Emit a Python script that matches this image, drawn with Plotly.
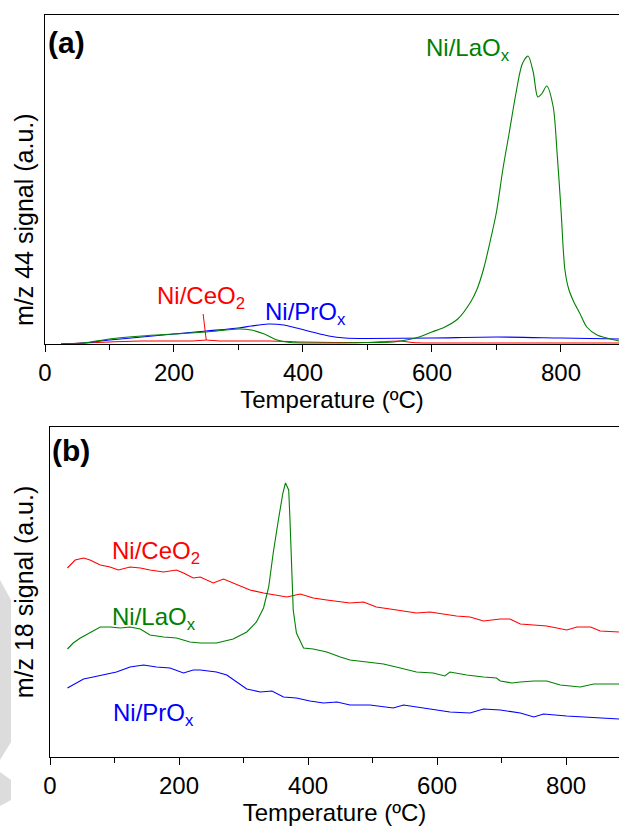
import plotly.graph_objects as go

# ---------------- Panel (a): m/z 44 signal ----------------
t_la_44 = [25, 60, 100, 150, 200, 250, 300, 320, 340, 360, 380, 420, 500, 540, 560, 580, 600, 620, 640,
           660, 670, 680, 690, 700, 710, 720, 730, 740, 749, 757, 764, 770, 778, 788, 794, 800, 806, 812,
           820, 829, 840, 856, 871, 890]
v_la_44 = [0, 1, 5, 8, 10, 12, 15, 14, 10, 4, 1.5, 1, 1.5, 2, 4, 7, 12, 17, 25,
           42, 55, 75, 102, 132, 175, 212, 250, 280, 288, 272, 247, 250, 258, 237, 191, 135, 75, 55,
           42, 31, 17, 9, 6, 3]

t_pr_44 = [25, 60, 100, 150, 200, 250, 300, 320, 346, 370, 390, 414, 440, 465, 500, 600, 700, 800, 890]
v_pr_44 = [0, 1, 4, 7, 10, 13, 16, 18, 20, 19, 16, 12, 8, 6, 5.5, 6, 7, 6, 5]

t_ce_44 = [25, 60, 100, 150, 200, 230, 250, 270, 300, 350, 400, 450, 500, 530, 550, 570, 600, 700, 800, 890]
v_ce_44 = [0, 1, 2, 3, 3, 3, 4, 3, 3, 3, 2, 1.5, 1.5, 2.5, 3, 1.5, 1, 1, 1, 1]

# ---------------- Panel (b): m/z 18 signal ----------------
t_ce_18 = [27, 39, 52, 62, 78, 93, 106, 124, 140, 155, 176, 196, 207, 222, 233, 253, 269, 284, 310, 331,
           351, 367, 388, 408, 429, 450, 465, 486, 506, 527, 548, 568, 589, 610, 630, 651, 672, 698, 713,
           729, 750, 770, 801, 817, 838, 853, 882]
v_ce_18 = [189, 197, 199, 197, 192, 190, 187, 190, 189, 187, 185, 187, 184, 179, 180, 174, 178, 174, 167, 164,
           162, 160, 163, 159, 157, 155, 154, 155, 150, 148, 146, 144, 145, 143, 141, 140, 136, 138, 138,
           133, 132, 131, 127, 130, 130, 126, 125]

t_la_18 = [27, 36, 47, 62, 78, 93, 109, 124, 140, 155, 176, 196, 217, 233, 258, 284, 305, 320, 331, 339,
           346, 354, 361, 365, 370, 372, 375, 377, 382, 393, 408, 429, 450, 465, 491, 517, 543, 568, 594,
           612, 620, 646, 672, 692, 698, 716, 729, 750, 770, 791, 822, 843, 882]
v_la_18 = [108, 114, 119, 124, 130, 130, 129, 130, 128, 122, 120, 119, 115, 114, 114, 118, 125, 135, 149, 170,
           204, 237, 264, 274, 267, 237, 187, 147, 124, 109, 108, 105, 100, 97, 95, 93, 89, 85, 84,
           81, 85, 82, 80, 79, 76, 74, 75, 76, 76, 72, 70, 73, 73]

t_pr_18 = [27, 36, 52, 67, 83, 103, 124, 145, 165, 186, 207, 222, 233, 258, 274, 289, 305, 326, 344, 362,
           382, 403, 424, 445, 465, 496, 532, 548, 579, 620, 651, 672, 698, 729, 750, 765, 801, 832, 853, 882]
v_pr_18 = [69, 72, 78, 80, 82, 85, 90, 92, 90, 89, 84, 87, 87, 85, 82, 75, 68, 65, 66, 60,
           59, 56, 54, 55, 52, 52, 49, 52, 49, 45, 44, 48, 47, 44, 40, 43, 41, 40, 39, 38]

x_ticks = [0, 200, 400, 600, 800]

RED, GREEN, BLUE = "#ff0000", "#008000", "#0000ff"
FONT = "Liberation Sans, Arial, sans-serif"
FS = 24

fig = go.Figure()

def add(t, v, c, xa, ya, shape):
    line = dict(color=c, width=1.1, shape=shape)
    if shape == "spline":
        line["smoothing"] = 0.8
    fig.add_trace(go.Scatter(x=t, y=v, mode="lines", xaxis=xa, yaxis=ya, line=line,
                             showlegend=False, hoverinfo="skip"))

add(t_ce_44, v_ce_44, RED, "x", "y", "spline")
add(t_pr_44, v_pr_44, BLUE, "x", "y", "spline")
add(t_la_44, v_la_44, GREEN, "x", "y", "spline")

add(t_ce_18, v_ce_18, RED, "x2", "y2", "linear")
add(t_la_18, v_la_18, GREEN, "x2", "y2", "linear")
add(t_pr_18, v_pr_18, BLUE, "x2", "y2", "linear")

W, H = 619, 828
def px(x):
    return x / W
def py(y):
    return 1 - y / H

xcommon = dict(showline=True, linecolor="black", linewidth=1, mirror=True, ticks="outside",
               ticklen=7, tickwidth=1, tickcolor="black", tickvals=x_ticks,
               minor=dict(dtick=100, tick0=0, ticks="outside", ticklen=5, tickwidth=1, tickcolor="black"),
               showgrid=False, zeroline=False, automargin=False,
               tickfont=dict(family=FONT, size=FS, color="black"),
               title=dict(text="Temperature (ºC)", font=dict(family=FONT, size=FS, color="black"), standoff=3))
ycommon = dict(showline=True, linecolor="black", linewidth=1, ticks="", showticklabels=False,
               showgrid=False, zeroline=False, automargin=False)

fig.update_layout(
    width=W, height=H, margin=dict(l=0, r=0, t=0, b=0),
    paper_bgcolor="white", plot_bgcolor="white",
    xaxis=dict(domain=[px(45), 1], range=[0, 890], anchor="y", **xcommon),
    yaxis=dict(domain=[py(344), py(15)], range=[0, 329], anchor="x", **ycommon),
    xaxis2=dict(domain=[px(50), 1], range=[0, 882], anchor="y2", **xcommon),
    yaxis2=dict(domain=[py(757), py(427)], range=[0, 330], anchor="x2",
                title=dict(text="m/z 18 signal (a.u.)", font=dict(family=FONT, size=25, color="black"), standoff=8),
                **ycommon),
)

# y-axis title of panel (a) sits below the panel centre in the reference
fig.add_annotation(text="m/z 44 signal (a.u.)", x=px(24), y=py(220), xref="paper", yref="paper",
                   showarrow=False, textangle=-90, xanchor="center", yanchor="middle",
                   font=dict(family=FONT, size=25, color="black"))

# light grey watermark fragment at the left edge of panel (b)
fig.add_shape(type="path", xref="paper", yref="paper", layer="below", line=dict(width=0),
              fillcolor="#dcdcdc",
              path=f"M 0 {py(580)} L {px(11)} {py(600)} L {px(11)} {py(742)} L 0 {py(760)} Z")
fig.add_shape(type="path", xref="paper", yref="paper", layer="below", line=dict(width=0),
              fillcolor="#dcdcdc",
              path=f"M 0 {py(772)} L {px(11)} {py(780)} L {px(11)} {py(800)} L 0 {py(806)} Z")

def label(text, x, y, color, xref, yref, size=FS, bold=False, xanchor="center"):
    fig.add_annotation(text=f"<b>{text}</b>" if bold else text, x=x, y=y, xref=xref, yref=yref,
                       showarrow=False, xanchor=xanchor, yanchor="middle",
                       font=dict(family=FONT, size=size, color=color))

label("(a)", px(46), py(42), "black", "paper", "paper", size=30, bold=True, xanchor="left")
label("(b)", px(50), py(450), "black", "paper", "paper", size=30, bold=True, xanchor="left")

label("Ni/LaO<sub>x</sub>", 656, 294, GREEN, "x", "y")
label("Ni/PrO<sub>x</sub>", 404, 31, BLUE, "x", "y")
fig.add_annotation(text="Ni/CeO<sub>2</sub>", x=250, y=4, xref="x", yref="y",
                   ax=242, ay=47, axref="x", ayref="y", showarrow=True, arrowhead=0,
                   arrowwidth=1, arrowcolor=RED, font=dict(family=FONT, size=FS, color=RED))

label("Ni/CeO<sub>2</sub>", 165, 205, RED, "x2", "y2")
label("Ni/LaO<sub>x</sub>", 161, 139, GREEN, "x2", "y2")
label("Ni/PrO<sub>x</sub>", 161, 43, BLUE, "x2", "y2")

fig.write_html("out.html")
